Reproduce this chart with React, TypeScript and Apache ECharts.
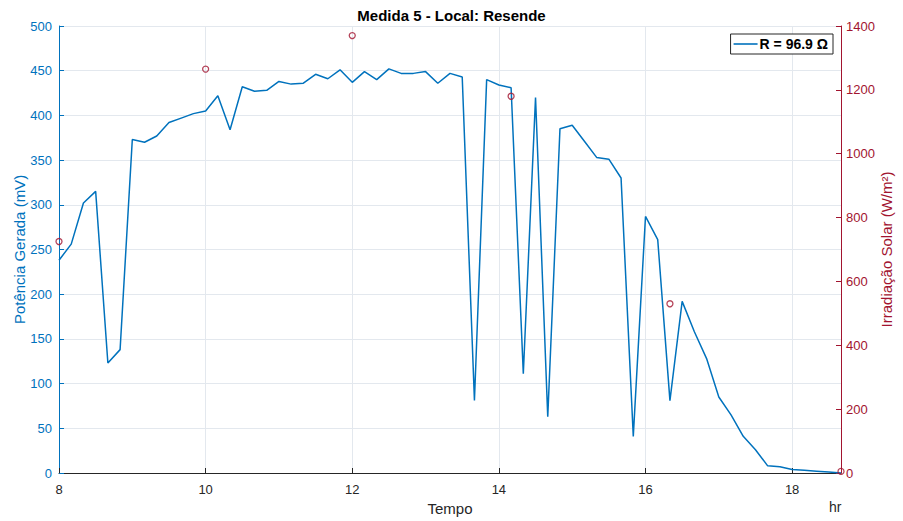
import React, { useEffect, useRef } from "react";
import * as echarts from "echarts";

// Measurement times (10-minute sampling)
const times: string[] = [
  "08:00", "08:10", "08:20", "08:30", "08:40", "08:50",
  "09:00", "09:10", "09:20", "09:30", "09:40", "09:50",
  "10:00", "10:10", "10:20", "10:30", "10:40", "10:50",
  "11:00", "11:10", "11:20", "11:30", "11:40", "11:50",
  "12:00", "12:10", "12:20", "12:30", "12:40", "12:50",
  "13:00", "13:10", "13:20", "13:30", "13:40", "13:50",
  "14:00", "14:10", "14:20", "14:30", "14:40", "14:50",
  "15:00", "15:10", "15:20", "15:30", "15:40", "15:50",
  "16:00", "16:10", "16:20", "16:30", "16:40", "16:50",
  "17:00", "17:10", "17:20", "17:30", "17:40", "17:50",
  "18:00", "18:10", "18:20", "18:30", "18:40",
];

// Generated power (mV)
const potencia: number[] = [
  238, 256, 302, 315, 123, 138,
  373, 370, 377, 392, 397, 402,
  405, 422, 384, 432, 427, 428,
  438, 435, 436, 446, 441, 451,
  437, 449, 440, 452, 447, 447,
  449, 436, 447, 443, 81, 440,
  434, 431, 111, 420, 63, 385,
  389, 371, 353, 351, 330, 41,
  287, 261, 81, 192, 158, 128,
  85, 65, 41, 26, 8, 7,
  4, 3, 2, 1, 0,
];

// Solar irradiance readings (W/m²)
const irradTimes: string[] = ["08:00", "10:00", "12:00", "14:10", "16:20", "18:40"];
const irradiancia: number[] = [725, 1265, 1370, 1180, 530, 5];

const xTicks = { min: 8, max: 18 + 40 / 60, interval: 2 };
const leftTicks = { min: 0, max: 500, interval: 50 };
const rightTicks = { min: 0, max: 1400, interval: 200 };

const toHours = (t: string) => {
  const [h, m] = t.split(":").map(Number);
  return h + m / 60;
};

const BLUE = "#0072BD";
const RED = "#A2142F";
const DARK = "#262626";
const GRID = "#e3e8ee";
const FONT = "Liberation Sans, Arial, sans-serif";

export default function App() {
  const ref = useRef<HTMLDivElement>(null);

  useEffect(() => {
    if (!ref.current) return;
    const chart = echarts.init(ref.current, undefined, { renderer: "svg" });

    const lineData = times.map((t, i) => [toHours(t), potencia[i]]);
    const irrData = irradTimes.map((t, i) => [toHours(t), irradiancia[i]]);

    chart.setOption({
      animation: false,
      backgroundColor: "#ffffff",
      textStyle: { fontFamily: FONT },
      title: {
        text: "Medida 5 - Local: Resende",
        left: "center",
        top: 3,
        textStyle: { fontFamily: FONT, fontSize: 15, fontWeight: "bold", color: "#000" },
      },
      legend: {
        data: [{ name: "R = 96.9 Ω", icon: "rect" }],
        right: 70,
        top: 34,
        orient: "horizontal",
        backgroundColor: "#ffffff",
        borderColor: DARK,
        borderWidth: 1,
        borderRadius: 0,
        padding: [3, 5, 3, 3],
        itemGap: 4,
        itemWidth: 24,
        itemHeight: 1.6,
        textStyle: { fontFamily: FONT, fontSize: 14, fontWeight: "bold", color: "#000", padding: [0, 0, 0, -3] },
      },
      grid: { left: 59, right: 62, top: 26, bottom: 48, containLabel: false, outerBoundsMode: "none" },
      xAxis: {
        type: "value",
        min: xTicks.min,
        max: xTicks.max,
        interval: xTicks.interval,
        name: "Tempo",
        nameLocation: "middle",
        nameGap: 28,
        nameMoveOverlap: false,
        nameTextStyle: { fontFamily: FONT, fontSize: 15, color: DARK },
        axisLine: { show: true, lineStyle: { color: DARK, width: 1 } },
        axisTick: { show: true, inside: true, length: 5, lineStyle: { color: DARK } },
        axisLabel: { fontFamily: FONT, fontSize: 13, color: DARK, margin: 10, showMaxLabel: false },
        splitLine: { show: true, lineStyle: { color: GRID, width: 1 } },
      },
      yAxis: [
        {
          type: "value",
          position: "left",
          min: leftTicks.min,
          max: leftTicks.max,
          interval: leftTicks.interval,
          name: "Potência Gerada (mV)",
          nameLocation: "middle",
          nameGap: 32,
          nameMoveOverlap: false,
          nameTextStyle: { fontFamily: FONT, fontSize: 15, color: BLUE },
          axisLine: { show: true, lineStyle: { color: BLUE, width: 1 } },
          axisTick: { show: true, inside: true, length: 5, lineStyle: { color: BLUE } },
          axisLabel: { fontFamily: FONT, fontSize: 13, color: BLUE, margin: 7 },
          splitLine: { show: true, lineStyle: { color: GRID, width: 1 } },
        },
        {
          type: "value",
          position: "right",
          min: rightTicks.min,
          max: rightTicks.max,
          interval: rightTicks.interval,
          name: "Irradiação Solar (W/m²)",
          nameLocation: "middle",
          nameGap: 38,
          nameRotate: 90,
          nameMoveOverlap: false,
          nameTextStyle: { fontFamily: FONT, fontSize: 15, color: RED },
          axisLine: { show: true, lineStyle: { color: RED, width: 1 } },
          axisTick: { show: true, inside: true, length: 5, lineStyle: { color: RED } },
          axisLabel: {
            fontFamily: FONT,
            fontSize: 13,
            color: RED,
            margin: 5,
            formatter: (v: number) => String(v),
          },
          splitLine: { show: false },
        },
      ],
      graphic: [
        {
          type: "text",
          left: 829,
          top: 500,
          style: { text: "hr", fontFamily: FONT, fontSize: 14, fill: DARK },
        },
      ],
      series: [
        {
          name: "R = 96.9 Ω",
          type: "line",
          yAxisIndex: 0,
          data: lineData,
          symbol: "none",
          color: BLUE,
          lineStyle: { color: BLUE, width: 1.5 },
          z: 3,
        },
        {
          name: "Irradiação",
          type: "scatter",
          yAxisIndex: 1,
          data: irrData,
          symbol: "circle",
          symbolSize: 6,
          itemStyle: { color: "transparent", borderColor: RED, borderWidth: 1.3 },
          z: 4,
        },
      ],
    });

    return () => chart.dispose();
  }, []);

  return (
    <div
      ref={ref}
      style={{ position: "fixed", left: 0, top: 0, width: 903, height: 521, background: "#fff" }}
    />
  );
}
